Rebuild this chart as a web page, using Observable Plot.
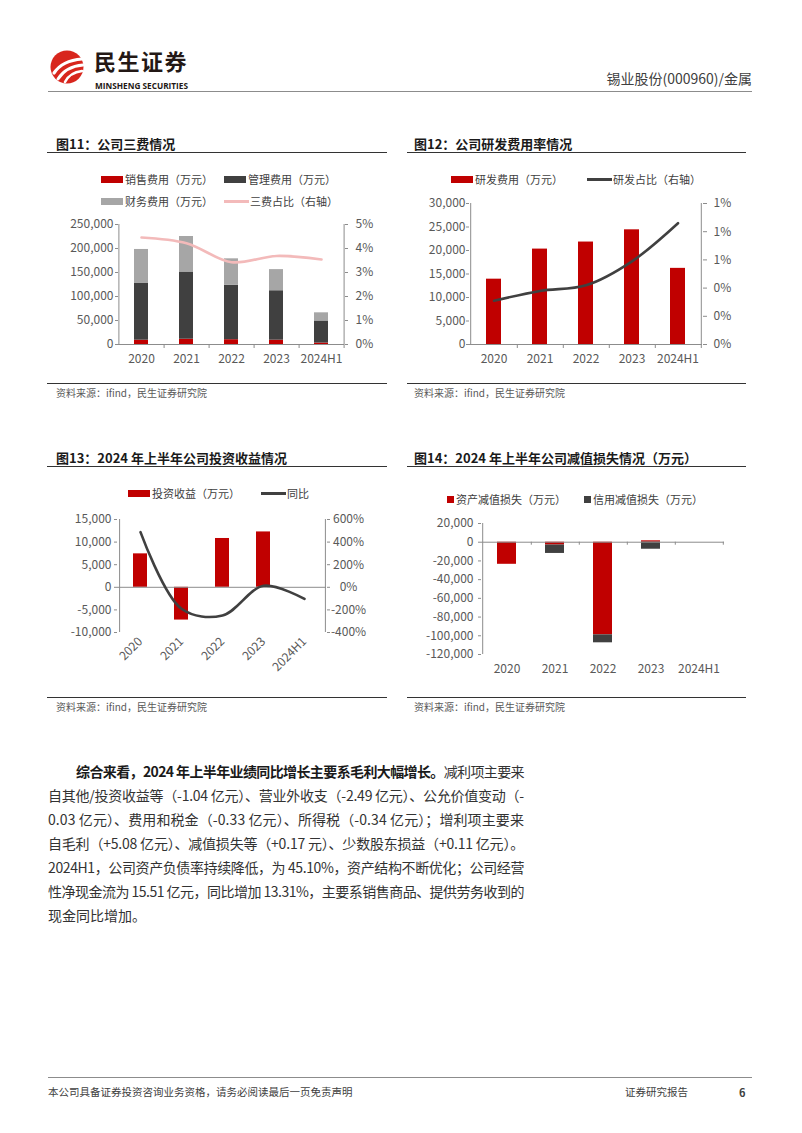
<!DOCTYPE html>
<html lang="zh-CN"><head><meta charset="utf-8">
<script src="https://cdn.jsdelivr.net/npm/d3@7"></script>
<script src="https://cdn.jsdelivr.net/npm/@observablehq/plot@0.6"></script>
<style>
html,body{margin:0;padding:0;background:#fff;}
body{width:802px;height:1133px;position:relative;overflow:hidden;font-family:"Noto Sans CJK SC","Noto Sans",sans-serif;color:#404040;}
.a{position:absolute;white-space:nowrap;}
.title{font-size:13px;font-weight:700;color:#1a1a1a;line-height:16px;}
.src{font-size:10px;color:#595959;line-height:12px;}
.leg{font-size:11px;color:#404040;line-height:14px;display:flex;align-items:center;}
.hline{position:absolute;height:0;}
.chart{position:absolute;}
.para{position:absolute;left:48px;top:759px;width:476px;font-size:14px;line-height:24px;color:#333;}
.para .ln{white-space:nowrap;display:inline-block;}
.para .row{height:24px;}
.brand{position:absolute;left:94px;top:46px;font-size:22px;font-weight:700;color:#231815;line-height:28px;letter-spacing:1.5px;white-space:nowrap;}
</style></head><body>
<script>
// ---------------- data ----------------
const years = ["2020", "2021", "2022", "2023", "2024H1"];

// 图11 公司三费情况
const series11 = ["销售费用（万元）", "管理费用（万元）", "财务费用（万元）"];
const salesExp = [9000, 11000, 10000, 9000, 3000];
const mgmtExp = [119000, 140000, 113500, 103000, 46000];
const finExp = [70000, 74000, 55000, 44000, 17000];
const expRatioName = "三费占比（右轴）";
const expRatio = [4.46, 4.22, 3.43, 3.69, 3.54]; // %
const leftTicks11 = [0, 50000, 100000, 150000, 200000, 250000];
const rightTicks11 = [0, 1, 2, 3, 4, 5];

// 图12 公司研发费用率情况
const rdName = "研发费用（万元）";
const rdExp = [13900, 20300, 21800, 24400, 16200];
const rdRatioName = "研发占比（右轴）";
const rdRatio = [0.31, 0.38, 0.42, 0.59, 0.86]; // %
const leftTicks12 = [0, 5000, 10000, 15000, 20000, 25000, 30000];
const rightTicks12 = [0, 0.2, 0.4, 0.6, 0.8, 1.0];

// 图13 投资收益
const invName = "投资收益（万元）";
const invIncome = [7400, -7250, 10800, 12250, 0];
const yoyName = "同比";
const invYoY = [488, -190, -249, 13, -103]; // %
const leftTicks13 = [-10000, -5000, 0, 5000, 10000, 15000];
const rightTicks13 = [-400, -200, 0, 200, 400, 600];

// 图14 减值损失
const series14 = ["资产减值损失（万元）", "信用减值损失（万元）"];
const assetImp = [-23600, -3000, -99000, 1500, 0];
const creditImp = [0, -9000, -8500, -7500, 0];
const ticks14 = [-120000, -100000, -80000, -60000, -40000, -20000, 0, 20000];

// ---------------- styles ----------------
const RED = "#c00000", DARK = "#404040", GRAY = "#a6a6a6", PINK = "#f3baba";
const AXIS = "#8c8c8c", TICKTXT = "#595959";
const FONT = '"Noto Sans CJK SC","Noto Sans",sans-serif';
const loc = d3.formatLocale({decimal: ".", thousands: ",", grouping: [3], currency: ["", ""], minus: "-"});
const fmtNum = loc.format(",");
const fmtInt = loc.format(".0f");

function el(tag, cls, css, html) {
  const e = document.createElement(tag);
  if (cls) e.className = cls;
  Object.assign(e.style, css || {});
  if (html != null) e.innerHTML = html;
  document.body.appendChild(e);
  return e;
}
function hline(x1, x2, y, color, w) {
  el("div", "hline", {left: x1 + "px", top: (y - w / 2) + "px", width: (x2 - x1) + "px", borderTop: w + "px solid " + color});
}
function legend(x, y, kind, color, label) {
  const d = el("div", "a leg", {left: x + "px", top: (y - 7) + "px"});
  const sw = document.createElement("span");
  if (kind === "rect") Object.assign(sw.style, {width: "22px", height: "7px", background: color, marginRight: "2px"});
  if (kind === "line") Object.assign(sw.style, {width: "25px", height: "3px", background: color, marginRight: "1px"});
  if (kind === "square") Object.assign(sw.style, {width: "7px", height: "7px", background: color, marginRight: "2px"});
  sw.style.display = "inline-block";
  d.appendChild(sw);
  const t = document.createElement("span");
  t.textContent = label;
  d.appendChild(t);
}
function place(svg, x, y) {
  const wrap = el("div", "chart", {left: x + "px", top: y + "px"});
  wrap.appendChild(svg);
}
const baseStyle = {fontFamily: FONT, fontSize: "12px", color: TICKTXT, background: "transparent", overflow: "visible"};

// ---------------- header ----------------
el("div", "a", {left: "49px", top: "49px"},
  `<svg width="38" height="36" viewBox="0 0 38 36">
    <circle cx="18" cy="18" r="16.5" fill="#d8261d"/>
    <path d="M5 24 C 11 15, 20 11, 33 10" stroke="#fff" stroke-width="3.2" fill="none" stroke-linecap="round"/>
    <path d="M9 30 C 14 22, 22 17, 34 16" stroke="#fff" stroke-width="3" fill="none" stroke-linecap="round"/>
    <path d="M16 33 C 19 27, 25 23, 33 22" stroke="#fff" stroke-width="2.6" fill="none" stroke-linecap="round"/>
  </svg>`);
el("div", "brand", {}, "民生证券");
el("div", "a", {left: "92px", top: "73px"},
  `<svg width="104" height="12">
    <text x="3" y="8.5" font-size="8.3" font-weight="700" fill="#231815" textLength="93" lengthAdjust="spacingAndGlyphs" font-family='"Open Sans",sans-serif'>MINSHENG SECURITIES</text>
  </svg>`);
el("div", "a", {right: "50px", top: "69px", fontSize: "14px", color: "#404040", lineHeight: "18px"}, "锡业股份(000960)/金属");
hline(48, 752, 92, "#8c8c8c", 1.5);

// ---------------- titles / rules / sources ----------------
el("div", "a title", {left: "56px", top: "136px"}, "图11：公司三费情况");
el("div", "a title", {left: "414px", top: "136px"}, "图12：公司研发费用率情况");
el("div", "a title", {left: "56px", top: "450px"}, "图13：2024 年上半年公司投资收益情况");
el("div", "a title", {left: "414px", top: "450px"}, "图14：2024 年上半年公司减值损失情况（万元）");
hline(47, 387, 152.5, "#333", 1.2);
hline(407, 746, 152.5, "#333", 1.2);
hline(47, 387, 466.5, "#333", 1.2);
hline(407, 746, 466.5, "#333", 1.2);
hline(47, 387, 383, "#333", 1);
hline(407, 746, 383, "#333", 1);
hline(47, 387, 697, "#333", 1);
hline(407, 746, 697, "#333", 1);
el("div", "a src", {left: "56px", top: "387px"}, "资料来源：ifind，民生证券研究院");
el("div", "a src", {left: "414px", top: "387px"}, "资料来源：ifind，民生证券研究院");
el("div", "a src", {left: "56px", top: "701px"}, "资料来源：ifind，民生证券研究院");
el("div", "a src", {left: "414px", top: "701px"}, "资料来源：ifind，民生证券研究院");

// ---------------- chart 11 ----------------
legend(101, 179, "rect", RED, series11[0]);
legend(224, 179, "rect", DARK, series11[1]);
legend(101, 201, "rect", GRAY, series11[2]);
legend(224, 201, "line", PINK, expRatioName);
{
  const W = 345, ML = 70, MR = 49;
  const step = (W - ML - MR) / years.length;
  const k = leftTicks11[leftTicks11.length - 1] / rightTicks11[rightTicks11.length - 1];
  const data = years.flatMap((y, i) => [
    {year: y, s: series11[0], v: salesExp[i]},
    {year: y, s: series11[1], v: mgmtExp[i]},
    {year: y, s: series11[2], v: finExp[i]}
  ]);
  const line = years.map((y, i) => ({year: y, v: expRatio[i]}));
  const svg = Plot.plot({
    width: W, height: 160, marginLeft: ML, marginRight: MR, marginTop: 9, marginBottom: 31,
    style: baseStyle,
    x: {domain: years, paddingInner: 0.69, paddingOuter: 0.345},
    y: {domain: [0, 250000]},
    color: {domain: series11, range: [RED, DARK, GRAY]},
    marks: [
      Plot.barY(data, {x: "year", y: "v", fill: "s"}),
      Plot.ruleY([0], {stroke: AXIS}),
      Plot.ruleX([years[0]], {dx: -step / 2, stroke: AXIS}),
      Plot.ruleX([years[years.length - 1]], {dx: step / 2, stroke: AXIS}),
      Plot.line(line, {x: "year", y: d => d.v * k, stroke: PINK, strokeWidth: 2.6, curve: "catmull-rom"}),
      Plot.axisY(leftTicks11, {label: null, tickSize: 3, tickPadding: 2, stroke: AXIS, tickFormat: fmtNum}),
      Plot.axisY(rightTicks11.map(v => v * k), {anchor: "right", label: null, tickSize: 3, tickPadding: 8, stroke: AXIS, tickFormat: d => fmtInt(d / k) + "%"}),
      Plot.axisX({label: null, tickSize: 0, tickPadding: 10}),
      Plot.axisX({label: null, tickSize: 4, tickFormat: () => "", dx: step / 2, stroke: AXIS})
    ]
  });
  place(svg, 48, 215);
}

// ---------------- chart 12 ----------------
legend(451, 179, "rect", RED, rdName);
legend(587, 179, "line", DARK, rdRatioName);
{
  const W = 345, ML = 62, MR = 50;
  const step = (W - ML - MR) / years.length;
  const k = leftTicks12[leftTicks12.length - 1] / rightTicks12[rightTicks12.length - 1];
  const bars = years.map((y, i) => ({year: y, v: rdExp[i]}));
  const line = years.map((y, i) => ({year: y, v: rdRatio[i]}));
  const svg = Plot.plot({
    width: W, height: 181, marginLeft: ML, marginRight: MR, marginTop: 9, marginBottom: 31,
    style: baseStyle,
    x: {domain: years, paddingInner: 0.68, paddingOuter: 0.34},
    y: {domain: [0, 30000]},
    marks: [
      Plot.barY(bars, {x: "year", y: "v", fill: RED}),
      Plot.ruleY([0], {stroke: AXIS}),
      Plot.ruleX([years[0]], {dx: -step / 2, stroke: AXIS}),
      Plot.ruleX([years[years.length - 1]], {dx: step / 2, stroke: AXIS}),
      Plot.line(line, {x: "year", y: d => d.v * k, stroke: DARK, strokeWidth: 2.6, curve: "catmull-rom"}),
      Plot.axisY(leftTicks12, {label: null, tickSize: 3, tickPadding: 1, stroke: AXIS, tickFormat: fmtNum}),
      Plot.axisY(rightTicks12.map(v => v * k), {anchor: "right", label: null, tickSize: 4, tickPadding: 7, stroke: AXIS, tickFormat: d => fmtInt(d / k) + "%"}),
      Plot.axisX({label: null, tickSize: 0, tickPadding: 10}),
      Plot.axisX({label: null, tickSize: 4, tickFormat: () => "", dx: step / 2, stroke: AXIS})
    ]
  });
  place(svg, 407, 194);
}

// ---------------- chart 13 ----------------
legend(128, 493, "rect", RED, invName);
legend(261, 493, "line", DARK, yoyName);
{
  const W = 342, ML = 69, MR = 64;
  const step = (W - ML - MR) / years.length;
  const k = leftTicks13[leftTicks13.length - 1] / rightTicks13[rightTicks13.length - 1];
  const bars = years.map((y, i) => ({year: y, v: invIncome[i]}));
  const line = years.map((y, i) => ({year: y, v: invYoY[i]}));
  const svg = Plot.plot({
    width: W, height: 190, marginLeft: ML, marginRight: MR, marginTop: 9, marginBottom: 68,
    style: baseStyle,
    x: {domain: years, paddingInner: 0.665, paddingOuter: 0.3325},
    y: {domain: [-10000, 15000]},
    marks: [
      Plot.barY(bars, {x: "year", y: "v", fill: RED}),
      Plot.ruleY([0], {stroke: AXIS}),
      Plot.ruleX([years[0]], {dx: -step / 2, stroke: AXIS}),
      Plot.ruleX([years[years.length - 1]], {dx: step / 2, stroke: AXIS}),
      Plot.line(line, {x: "year", y: d => d.v * k, stroke: DARK, strokeWidth: 2.6, curve: "catmull-rom"}),
      Plot.axisY(leftTicks13, {label: null, tickSize: 3, tickPadding: 3, stroke: AXIS, tickFormat: fmtNum}),
      Plot.axisY(rightTicks13.map(v => v * k), {anchor: "right", label: null, tickSize: 3, tickPadding: 19, textAnchor: "middle", stroke: AXIS, tickFormat: d => fmtInt(d / k) + "%"}),
      Plot.axisX({label: null, tickSize: 0, tickPadding: 7, tickRotate: -45})
    ]
  });
  place(svg, 48, 510);
}

// ---------------- chart 14 ----------------
legend(447, 499, "square", RED, series14[0]);
legend(584, 499, "square", DARK, series14[1]);
{
  const W = 345, ML = 74, MR = 28;
  const step = (W - ML - MR) / years.length;
  const data = years.flatMap((y, i) => [
    {year: y, s: series14[0], v: assetImp[i]},
    {year: y, s: series14[1], v: creditImp[i]}
  ]);
  const svg = Plot.plot({
    width: W, height: 171, marginLeft: ML, marginRight: MR, marginTop: 9, marginBottom: 31,
    style: baseStyle,
    x: {domain: years, paddingInner: 0.61, paddingOuter: 0.305},
    y: {domain: [-120000, 20000]},
    color: {domain: series14, range: [RED, DARK]},
    marks: [
      Plot.barY(data, {x: "year", y: "v", fill: "s"}),
      Plot.ruleY([0], {stroke: AXIS}),
      Plot.ruleX(years, {x: d => d, y1: 0, y2: -3200, dx: step / 2, stroke: AXIS}),
      Plot.ruleX([years[0]], {dx: -step / 2, stroke: AXIS}),
      Plot.axisY(ticks14, {label: null, tickSize: 3, tickPadding: 5, stroke: AXIS, tickFormat: fmtNum}),
      Plot.axisX({label: null, tickSize: 0, tickPadding: 10})
    ]
  });
  place(svg, 407, 514);
}

// ---------------- paragraph ----------------
const paraLines = [
  {indent: 28, html: '<b style="color:#1a1a1a">综合来看，2024 年上半年业绩同比增长主要系毛利大幅增长。</b>减利项主要来'},
  {indent: 0, html: "自其他/投资收益等（-1.04 亿元）、营业外收支（-2.49 亿元）、公允价值变动（-"},
  {indent: 0, html: "0.03 亿元）、费用和税金（-0.33 亿元）、所得税（-0.34 亿元）；增利项主要来"},
  {indent: 0, html: "自毛利（+5.08 亿元）、减值损失等（+0.17 元）、少数股东损益（+0.11 亿元）。"},
  {indent: 0, html: "2024H1，公司资产负债率持续降低，为 45.10%，资产结构不断优化；公司经营"},
  {indent: 0, html: "性净现金流为 15.51 亿元，同比增加 13.31%，主要系销售商品、提供劳务收到的"},
  {indent: 0, html: "现金同比增加。", last: true}
];
const para = el("div", "para", {});
paraLines.forEach(l => {
  const row = document.createElement("div");
  row.className = "row";
  const s = document.createElement("span");
  s.className = "ln";
  s.style.marginLeft = l.indent + "px";
  s.innerHTML = l.html;
  row.appendChild(s);
  para.appendChild(row);
  if (!l.last) {
    const target = 476 - l.indent;
    const w = s.getBoundingClientRect().width;
    const n = [...s.textContent].length;
    s.style.letterSpacing = ((target - w) / n) + "px";
  }
});

// ---------------- footer ----------------
hline(48, 752, 1077, "#8c8c8c", 1);
el("div", "a", {left: "48px", top: "1085px", fontSize: "10.5px", color: "#404040", lineHeight: "14px"}, "本公司具备证券投资咨询业务资格，请务必阅读最后一页免责声明");
el("div", "a", {left: "625px", top: "1085px", fontSize: "10.5px", color: "#404040", lineHeight: "14px"}, "证券研究报告");
el("div", "a", {left: "739px", top: "1085px", fontSize: "11px", fontWeight: "700", color: "#404040", lineHeight: "14px"}, "6");
</script>
</body></html>
